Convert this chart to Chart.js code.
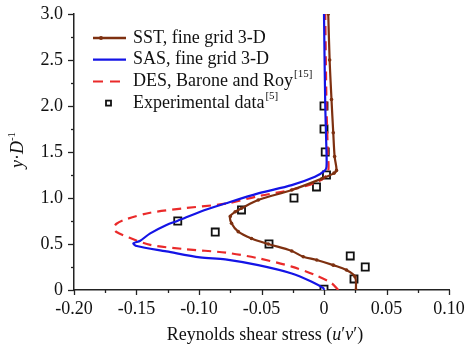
<!DOCTYPE html>
<html>
<head>
<meta charset="utf-8">
<script src="https://cdn.jsdelivr.net/npm/chart.js@4.4.1/dist/chart.umd.min.js"></script>
<style>
  html, body { margin: 0; padding: 0; background: #fff; }
  #wrap { width: 465px; height: 347px; }
</style>
</head>
<body>
<div id="wrap"><canvas id="myChart" width="465" height="347"></canvas></div>
<script>
// SST, fine grid 3-D
const sstX = [0.0256, 0.0248, 0.018, 0.0074, -0.0058, -0.0166, -0.0258, -0.0446, -0.058, -0.0686, -0.074, -0.075, -0.071, -0.066, -0.0526, -0.0258, -0.0018, 0.008, 0.010, 0.0085, 0.0074, 0.006, 0.0045, 0.0034];
const sstY = [0, 0.145, 0.217, 0.27, 0.326, 0.362, 0.424, 0.5, 0.56, 0.634, 0.725, 0.80, 0.85, 0.888, 0.978, 1.087, 1.21, 1.27, 1.30, 1.45, 1.71, 2.07, 2.5, 3.0];

// SAS, fine grid 3-D
const sasX = [0, -0.0005, -0.0098, -0.0258, -0.0526, -0.079, -0.0992, -0.126, -0.1498, -0.1525, -0.147, -0.139, -0.126, -0.117, -0.099, -0.079, -0.0526, -0.0258, -0.0072, 0.0008, 0.002, 0.002, 0.001, 0.0];
const sasY = [0, 0.02, 0.09, 0.18, 0.27, 0.333, 0.355, 0.42, 0.478, 0.507, 0.536, 0.616, 0.707, 0.753, 0.851, 0.94, 1.05, 1.14, 1.23, 1.30, 1.34, 1.5, 2.0, 3.0];

// DES, Barone and Roy
const desX = [0.0114, 0.0061, -0.0072, -0.0258, -0.0526, -0.078, -0.1125, -0.139, -0.156, -0.166, -0.168, -0.166, -0.158, -0.139, -0.1125, -0.078, -0.0526, -0.0258, -0.0046, 0.003, 0.003, 0.002, 0.001];
const desY = [0, 0.073, 0.163, 0.254, 0.345, 0.405, 0.446, 0.49, 0.57, 0.63, 0.67, 0.72, 0.77, 0.84, 0.888, 0.94, 1.02, 1.09, 1.18, 1.27, 1.5, 2.0, 3.0];

// experimental data
const expX = [0.0, 0.024, 0.033, 0.021, -0.044, -0.087, -0.117, -0.066, -0.024, -0.006, 0.002, 0.001, 0.0, 0.0];
const expY = [0.01, 0.12, 0.25, 0.37, 0.5, 0.63, 0.75, 0.87, 1.0, 1.12, 1.25, 1.5, 1.75, 2.0];

const xTicks = [-0.20, -0.15, -0.10, -0.05, 0, 0.05, 0.10];
const yTicks = [0, 0.5, 1.0, 1.5, 2.0, 2.5, 3.0];

const BROWN = '#7e3010';
const BLUE = '#1414e6';
const RED = '#ea2a2a';
const SERIF = '"Liberation Serif", "Times New Roman", serif';

const pts = (xs, ys) => xs.map((x, i) => ({ x: x, y: ys[i] }));

// draws pieces of text with different fonts in a row
function runsWidth(ctx, runs) {
    let w = 0;
    runs.forEach(r => { ctx.font = r.font; w += ctx.measureText(r.text).width; });
    return w;
}
function drawRuns(ctx, x, y, runs) {
    runs.forEach(r => {
        ctx.font = r.font;
        ctx.fillText(r.text, x, y + (r.dy || 0));
        x += ctx.measureText(r.text).width;
    });
}

const legendItems = [
    { kind: 'sst', runs: [{ text: 'SST, fine grid 3-D' }] },
    { kind: 'sas', runs: [{ text: 'SAS, fine grid 3-D' }] },
    { kind: 'des', runs: [{ text: 'DES, Barone and Roy' }, { text: '[15]', sup: true }] },
    { kind: 'exp', runs: [{ text: 'Experimental data' }, { text: '[5]', sup: true }] }
];

const decorations = {
    id: 'decorations',
    afterDraw(chart) {
        const ctx = chart.ctx;
        const xs = chart.scales.x, ys = chart.scales.y;
        const area = chart.chartArea;
        ctx.save();

        // tick marks, major and minor
        ctx.strokeStyle = '#222';
        ctx.lineWidth = 1.3;
        for (let i = 0; i <= 12; i++) {
            const v = -0.2 + i * 0.025;
            const px = Math.round(xs.getPixelForValue(v)) + 0.5;
            const len = i % 2 === 0 ? 5 : 3;
            ctx.beginPath();
            ctx.moveTo(px, area.bottom);
            ctx.lineTo(px, area.bottom + len);
            ctx.stroke();
        }
        for (let i = 0; i <= 12; i++) {
            const v = i * 0.25;
            const py = Math.round(ys.getPixelForValue(v)) + 0.5;
            const len = i % 2 === 0 ? 6 : 3;
            ctx.beginPath();
            ctx.moveTo(area.left, py);
            ctx.lineTo(area.left - len, py);
            ctx.stroke();
        }

        ctx.fillStyle = '#111';
        ctx.textBaseline = 'middle';
        ctx.textAlign = 'left';

        // x axis title
        const xt = [
            { text: 'Reynolds shear stress (', font: '18px ' + SERIF },
            { text: 'u', font: 'italic 18px ' + SERIF },
            { text: '\u2032', font: '18px ' + SERIF },
            { text: 'v', font: 'italic 18px ' + SERIF },
            { text: '\u2032)', font: '18px ' + SERIF }
        ];
        const xw = runsWidth(ctx, xt);
        drawRuns(ctx, 265 - xw / 2, 335, xt);

        // y axis title, rotated
        const yt = [
            { text: 'y', font: 'italic 18px ' + SERIF },
            { text: '\u00b7', font: '18px ' + SERIF },
            { text: 'D', font: 'italic 18px ' + SERIF },
            { text: '-1', font: '11px ' + SERIF, dy: -6 }
        ];
        const yw = runsWidth(ctx, yt);
        ctx.save();
        ctx.translate(18, 150);
        ctx.rotate(-Math.PI / 2);
        drawRuns(ctx, -yw / 2, 0, yt);
        ctx.restore();

        // legend
        legendItems.forEach((item, i) => {
            const y = 38 + i * 21.7;
            const x0 = 93, x1 = 126;
            ctx.setLineDash([]);
            if (item.kind === 'sst') {
                ctx.strokeStyle = BROWN; ctx.lineWidth = 2.5;
                ctx.beginPath(); ctx.moveTo(x0, y); ctx.lineTo(x1, y); ctx.stroke();
                ctx.fillStyle = BROWN;
                ctx.beginPath(); ctx.arc(101, y, 2, 0, Math.PI * 2); ctx.fill();
            } else if (item.kind === 'sas') {
                ctx.strokeStyle = BLUE; ctx.lineWidth = 2.2;
                ctx.beginPath(); ctx.moveTo(x0, y); ctx.lineTo(x1, y); ctx.stroke();
            } else if (item.kind === 'des') {
                ctx.strokeStyle = RED; ctx.lineWidth = 2;
                ctx.setLineDash([10, 7]);
                ctx.beginPath(); ctx.moveTo(x0, y); ctx.lineTo(x1 + 1, y); ctx.stroke();
                ctx.setLineDash([]);
            } else {
                ctx.strokeStyle = '#111'; ctx.lineWidth = 1.8;
                ctx.strokeRect(106, y - 2.5, 5, 5);
            }
            ctx.fillStyle = '#111';
            let x = 133;
            item.runs.forEach(r => {
                ctx.font = (r.sup ? '11px ' : '18px ') + SERIF;
                ctx.fillText(r.text, x, r.sup ? y - 7 : y);
                x += ctx.measureText(r.text).width + (r.sup ? 0 : 1);
            });
        });
        ctx.restore();
    }
};

Chart.defaults.font.family = SERIF;
Chart.defaults.font.size = 18;
Chart.defaults.color = '#111';

const ctx = document.getElementById('myChart').getContext('2d');
new Chart(ctx, {
    type: 'scatter',
    data: {
        datasets: [
            {
                label: 'SST, fine grid 3-D',
                data: pts(sstX, sstY),
                showLine: true,
                borderColor: BROWN,
                backgroundColor: BROWN,
                borderWidth: 2.2,
                tension: 0.35,
                pointRadius: 1.8,
                pointBorderWidth: 0
            },
            {
                label: 'SAS, fine grid 3-D',
                data: pts(sasX, sasY),
                showLine: true,
                borderColor: BLUE,
                borderWidth: 2.2,
                tension: 0.3,
                pointRadius: 0
            },
            {
                label: 'DES, Barone and Roy',
                data: pts(desX, desY),
                showLine: true,
                borderColor: RED,
                borderWidth: 2.2,
                borderDash: [9, 6],
                tension: 0.3,
                pointRadius: 0
            },
            {
                label: 'Experimental data',
                data: pts(expX, expY),
                showLine: false,
                pointStyle: 'rect',
                pointRadius: 5,
                pointBorderWidth: 1.8,
                borderColor: '#111',
                backgroundColor: 'rgba(255,255,255,0.9)'
            }
        ]
    },
    options: {
        responsive: false,
        animation: false,
        layout: { padding: { top: 14, right: 16, left: 0, bottom: 0 } },
        plugins: {
            legend: { display: false },
            tooltip: { enabled: false }
        },
        scales: {
            x: {
                type: 'linear',
                min: -0.2,
                max: 0.1,
                afterFit: s => { s.height = 57; s.paddingLeft = 0; s.paddingRight = 0; },
                afterBuildTicks: s => { s.ticks = xTicks.map(v => ({ value: v })); },
                ticks: {
                    padding: 8,
                    autoSkip: false,
                    maxRotation: 0,
                    callback: v => (v === 0 ? '0' : v.toFixed(2))
                },
                grid: { display: false, drawTicks: false },
                border: { display: true, color: '#222', width: 1.5 }
            },
            y: {
                type: 'linear',
                min: 0,
                max: 3,
                afterFit: s => { s.width = 74; s.paddingTop = 0; s.paddingBottom = 0; },
                afterBuildTicks: s => { s.ticks = yTicks.map(v => ({ value: v })); },
                ticks: {
                    padding: 11,
                    autoSkip: false,
                    callback: v => (v === 0 ? '0' : v.toFixed(1))
                },
                grid: { display: false, drawTicks: false },
                border: { display: true, color: '#222', width: 1.5 }
            }
        }
    },
    plugins: [decorations]
});
</script>
</body>
</html>
